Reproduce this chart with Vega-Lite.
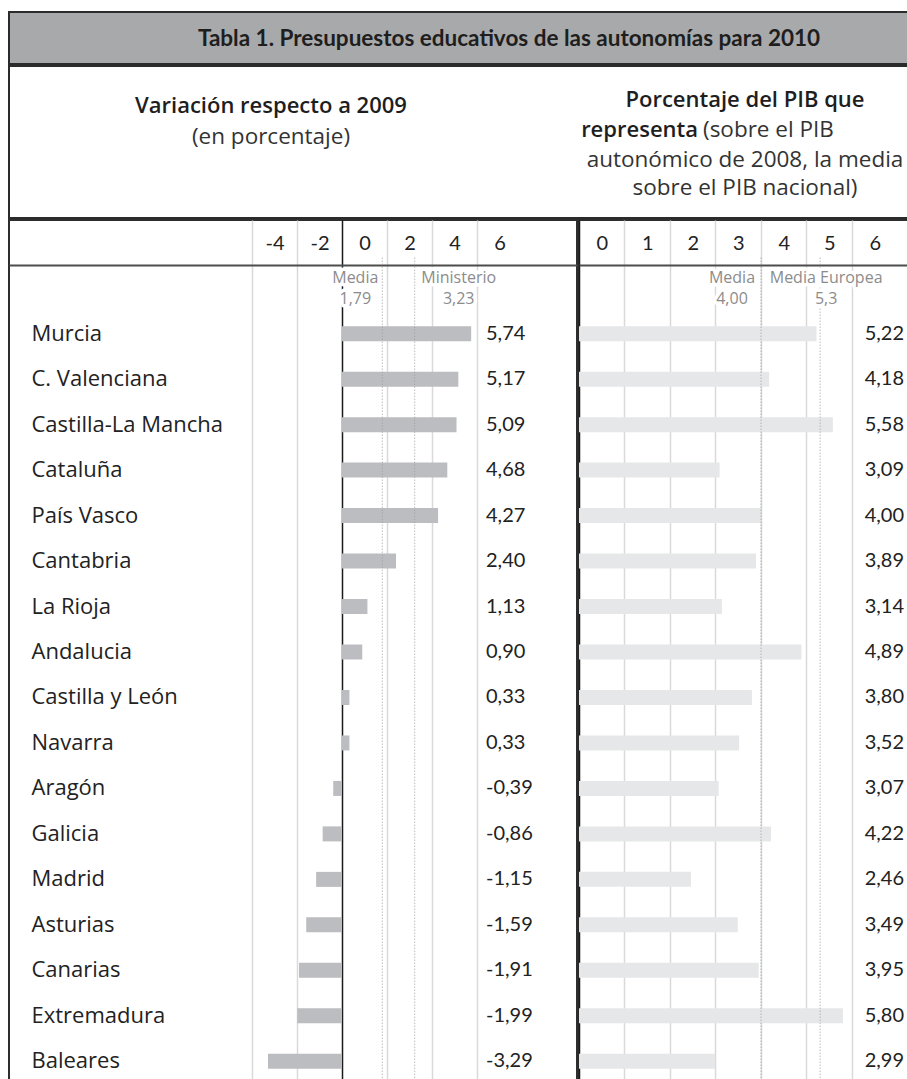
{
  "$schema": "https://vega.github.io/schema/vega-lite/v6.json",
  "padding": {"left": 8, "top": 11, "right": 0, "bottom": 0},
  "background": "white",
  "spacing": 0,
  "config": {
    "locale": {"number": {"decimal": ",", "thousands": ".", "grouping": [3], "currency": ["", " €"], "minus": "-"}},
    "font": "Open Sans",
    "concat": {"spacing": 0},
    "view": {"stroke": "#2e2e2e", "strokeWidth": 2}
  },
  "datasets": {
    "autonomias": [
      {"comunidad": "Murcia", "variacion": 5.74, "pib": 5.22},
      {"comunidad": "C. Valenciana", "variacion": 5.17, "pib": 4.18},
      {"comunidad": "Castilla-La Mancha", "variacion": 5.09, "pib": 5.58},
      {"comunidad": "Cataluña", "variacion": 4.68, "pib": 3.09},
      {"comunidad": "País Vasco", "variacion": 4.27, "pib": 4.00},
      {"comunidad": "Cantabria", "variacion": 2.40, "pib": 3.89},
      {"comunidad": "La Rioja", "variacion": 1.13, "pib": 3.14},
      {"comunidad": "Andalucia", "variacion": 0.90, "pib": 4.89},
      {"comunidad": "Castilla y León", "variacion": 0.33, "pib": 3.80},
      {"comunidad": "Navarra", "variacion": 0.33, "pib": 3.52},
      {"comunidad": "Aragón", "variacion": -0.39, "pib": 3.07},
      {"comunidad": "Galicia", "variacion": -0.86, "pib": 4.22},
      {"comunidad": "Madrid", "variacion": -1.15, "pib": 2.46},
      {"comunidad": "Asturias", "variacion": -1.59, "pib": 3.49},
      {"comunidad": "Canarias", "variacion": -1.91, "pib": 3.95},
      {"comunidad": "Extremadura", "variacion": -1.99, "pib": 5.80},
      {"comunidad": "Baleares", "variacion": -3.29, "pib": 2.99}
    ],
    "refVariacion": [
      {"referencia": "Media", "valor": 1.79, "etiqueta": "Media\n1,79"},
      {"referencia": "Ministerio", "valor": 3.23, "etiqueta": "Ministerio\n3,23"}
    ],
    "refPib": [
      {"referencia": "Media", "valor": 4.00, "etiqueta": "Media\n4,00"},
      {"referencia": "Media Europea", "valor": 5.3, "etiqueta": "Media Europea\n5,3"}
    ]
  },
  "vconcat": [
    {
      "width": 910,
      "height": 52,
      "view": {"fill": "#a8a9ab", "stroke": "#2b2b2b", "strokeWidth": 2},
      "data": {"values": [{"titulo": "Tabla 1. Presupuestos educativos de las autonomías para 2010"}]},
      "mark": {"type": "text", "font": "Lato", "fontSize": 22.5, "fontWeight": "bold", "color": "#1e1e1e", "dx": 45, "dy": 1},
      "encoding": {"text": {"field": "titulo", "type": "nominal"}}
    },
    {
      "width": 910,
      "height": 152,
      "view": {"fill": "white", "stroke": "#2b2b2b", "strokeWidth": 2},
      "layer": [
        {
          "data": {"values": [{"t": "Variación respecto a 2009"}]},
          "mark": {"type": "text", "fontSize": 22, "fontWeight": 600, "color": "#1e1e1e", "dx": -193, "dy": -36},
          "encoding": {"text": {"field": "t", "type": "nominal"}}
        },
        {
          "data": {"values": [{"t": "(en porcentaje)"}]},
          "mark": {"type": "text", "fontSize": 22.5, "color": "#333333", "dx": -193, "dy": -5},
          "encoding": {"text": {"field": "t", "type": "nominal"}}
        },
        {
          "data": {"values": [{"t": "Porcentaje del PIB que"}]},
          "mark": {"type": "text", "fontSize": 22, "fontWeight": 600, "color": "#1e1e1e", "dx": 281, "dy": -42},
          "encoding": {"text": {"field": "t", "type": "nominal"}}
        },
        {
          "data": {"values": [{"t": "representa"}]},
          "mark": {"type": "text", "fontSize": 22, "fontWeight": 600, "color": "#1e1e1e", "align": "right", "dx": 234, "dy": -12},
          "encoding": {"text": {"field": "t", "type": "nominal"}}
        },
        {
          "data": {"values": [{"t": "(sobre el PIB"}]},
          "mark": {"type": "text", "fontSize": 22.5, "color": "#333333", "align": "left", "dx": 239, "dy": -12},
          "encoding": {"text": {"field": "t", "type": "nominal"}}
        },
        {
          "data": {"values": [{"t": "autonómico de 2008, la media"}]},
          "mark": {"type": "text", "fontSize": 22.5, "color": "#333333", "dx": 281, "dy": 18},
          "encoding": {"text": {"field": "t", "type": "nominal"}}
        },
        {
          "data": {"values": [{"t": "sobre el PIB nacional)"}]},
          "mark": {"type": "text", "fontSize": 22.5, "color": "#333333", "dx": 281, "dy": 46},
          "encoding": {"text": {"field": "t", "type": "nominal"}}
        }
      ]
    },
    {
      "spacing": 0,
      "hconcat": [
        {
          "width": 568,
          "height": 864,
          "layer": [
            {
              "data": {"name": "autonomias"},
              "mark": {"type": "bar", "color": "#bcbdc0", "height": 15},
              "encoding": {
                "y": {
                  "field": "comunidad", "type": "nominal", "sort": null,
                  "scale": {"paddingInner": 0, "paddingOuter": 1.099, "align": 1},
                  "axis": {"orient": "left", "domain": false, "ticks": false, "grid": false, "title": null, "labelAlign": "left", "labelPadding": -22, "labelFontSize": 22, "labelLimit": 400, "labelColor": "#222222", "labelFont": "Open Sans", "minExtent": 0, "maxExtent": 0}
                },
                "x": {
                  "field": "variacion", "type": "quantitative",
                  "scale": {"domain": [-14.8, 10.444], "nice": false, "zero": false},
                  "axis": {
                    "orient": "top", "offset": -45, "values": [-4, -2, 0, 2, 4, 6], "title": null,
                    "ticks": false, "domain": true, "domainColor": "#4d4d4d", "domainWidth": 2,
                    "labelOffset": 22.5, "labelPadding": 22, "labelBaseline": "middle", "labelFontSize": 20, "labelColor": "#222222", "labelFont": "Lato", "labelFlush": false, "labelOverlap": false,
                    "grid": true, "gridWidth": 1.5,
                    "gridColor": {"condition": {"test": "datum.value === 0", "value": "#1a1a1a"}, "value": "#d9d9d9"}
                  }
                },
                "x2": {"datum": 0}
              }
            },
            {
              "data": {"name": "autonomias"},
              "mark": {"type": "text", "font": "Lato", "align": "left", "baseline": "middle", "fontSize": 20, "color": "#222222"},
              "encoding": {
                "y": {"field": "comunidad", "type": "nominal", "sort": null},
                "x": {"datum": 6.4},
                "text": {"field": "variacion", "type": "quantitative", "format": ".2f"}
              }
            },
            {
              "data": {"name": "refVariacion"},
              "mark": {"type": "rule", "color": "#9a9a9a", "strokeWidth": 1, "strokeDash": [1, 2], "yOffset": -76, "y2Offset": 30},
              "encoding": {
                "x": {"field": "valor", "type": "quantitative"},
                "y": {"datum": "Murcia"},
                "y2": {"datum": "Baleares"}
              }
            },
            {
              "data": {"name": "refVariacion"},
              "transform": [{"filter": "datum.referencia === 'Media'"}],
              "mark": {"type": "text", "lineBreak": "\n", "lineHeight": 21.5, "fontSize": 16, "fill": "white", "stroke": "white", "strokeWidth": 7, "strokeJoin": "round", "dx": -27, "dy": -56},
              "encoding": {"x": {"field": "valor", "type": "quantitative"}, "y": {"datum": "Murcia"}, "text": {"field": "etiqueta"}}
            },
            {
              "data": {"name": "refVariacion"},
              "transform": [{"filter": "datum.referencia === 'Media'"}],
              "mark": {"type": "text", "lineBreak": "\n", "lineHeight": 21.5, "fontSize": 16, "color": "#8c8c8c", "dx": -27, "dy": -56},
              "encoding": {"x": {"field": "valor", "type": "quantitative"}, "y": {"datum": "Murcia"}, "text": {"field": "etiqueta"}}
            },
            {
              "data": {"name": "refVariacion"},
              "transform": [{"filter": "datum.referencia === 'Ministerio'"}],
              "mark": {"type": "text", "lineBreak": "\n", "lineHeight": 21.5, "fontSize": 16, "fill": "white", "stroke": "white", "strokeWidth": 7, "strokeJoin": "round", "dx": 44, "dy": -56},
              "encoding": {"x": {"field": "valor", "type": "quantitative"}, "y": {"datum": "Murcia"}, "text": {"field": "etiqueta"}}
            },
            {
              "data": {"name": "refVariacion"},
              "transform": [{"filter": "datum.referencia === 'Ministerio'"}],
              "mark": {"type": "text", "lineBreak": "\n", "lineHeight": 21.5, "fontSize": 16, "color": "#8c8c8c", "dx": 44, "dy": -56},
              "encoding": {"x": {"field": "valor", "type": "quantitative"}, "y": {"datum": "Murcia"}, "text": {"field": "etiqueta"}}
            }
          ]
        },
        {
          "width": 334,
          "height": 864,
          "layer": [
            {
              "data": {"name": "autonomias"},
              "mark": {"type": "bar", "color": "#e6e7e8", "height": 15},
              "encoding": {
                "y": {
                  "field": "comunidad", "type": "nominal", "sort": null,
                  "scale": {"paddingInner": 0, "paddingOuter": 1.099, "align": 1},
                  "axis": null
                },
                "x": {
                  "field": "pib", "type": "quantitative",
                  "scale": {"domain": [0, 7.341], "nice": false, "zero": false},
                  "axis": {
                    "orient": "top", "offset": -45, "values": [0, 1, 2, 3, 4, 5, 6], "title": null,
                    "ticks": false, "domain": true, "domainColor": "#4d4d4d", "domainWidth": 2,
                    "labelOffset": 22.75, "labelPadding": 22, "labelBaseline": "middle", "labelFontSize": 20, "labelColor": "#222222", "labelFont": "Lato", "labelFlush": false, "labelOverlap": false,
                    "grid": true, "gridWidth": 1.5,
                    "gridColor": {"condition": {"test": "datum.value === 0", "value": "#1a1a1a"}, "value": "#d9d9d9"}
                  }
                },
                "x2": {"datum": 0}
              }
            },
            {
              "data": {"name": "autonomias"},
              "mark": {"type": "text", "font": "Lato", "align": "left", "baseline": "middle", "fontSize": 20, "color": "#222222"},
              "encoding": {
                "y": {"field": "comunidad", "type": "nominal", "sort": null},
                "x": {"datum": 6.28},
                "text": {"field": "pib", "type": "quantitative", "format": ".2f"}
              }
            },
            {
              "data": {"name": "refPib"},
              "mark": {"type": "rule", "color": "#9a9a9a", "strokeWidth": 1, "strokeDash": [1, 2], "yOffset": -76, "y2Offset": 30},
              "encoding": {
                "x": {"field": "valor", "type": "quantitative"},
                "y": {"datum": "Murcia"},
                "y2": {"datum": "Baleares"}
              }
            },
            {
              "data": {"name": "refPib"},
              "transform": [{"filter": "datum.referencia === 'Media'"}],
              "mark": {"type": "text", "lineBreak": "\n", "lineHeight": 21.5, "fontSize": 16, "fill": "white", "stroke": "white", "strokeWidth": 7, "strokeJoin": "round", "dx": -29, "dy": -56},
              "encoding": {"x": {"field": "valor", "type": "quantitative"}, "y": {"datum": "Murcia"}, "text": {"field": "etiqueta"}}
            },
            {
              "data": {"name": "refPib"},
              "transform": [{"filter": "datum.referencia === 'Media'"}],
              "mark": {"type": "text", "lineBreak": "\n", "lineHeight": 21.5, "fontSize": 16, "color": "#8c8c8c", "dx": -29, "dy": -56},
              "encoding": {"x": {"field": "valor", "type": "quantitative"}, "y": {"datum": "Murcia"}, "text": {"field": "etiqueta"}}
            },
            {
              "data": {"name": "refPib"},
              "transform": [{"filter": "datum.referencia === 'Media Europea'"}],
              "mark": {"type": "text", "lineBreak": "\n", "lineHeight": 21.5, "fontSize": 16, "fill": "white", "stroke": "white", "strokeWidth": 7, "strokeJoin": "round", "dx": 6, "dy": -56},
              "encoding": {"x": {"field": "valor", "type": "quantitative"}, "y": {"datum": "Murcia"}, "text": {"field": "etiqueta"}}
            },
            {
              "data": {"name": "refPib"},
              "transform": [{"filter": "datum.referencia === 'Media Europea'"}],
              "mark": {"type": "text", "lineBreak": "\n", "lineHeight": 21.5, "fontSize": 16, "color": "#8c8c8c", "dx": 6, "dy": -56},
              "encoding": {"x": {"field": "valor", "type": "quantitative"}, "y": {"datum": "Murcia"}, "text": {"field": "etiqueta"}}
            }
          ]
        }
      ]
    }
  ]
}
